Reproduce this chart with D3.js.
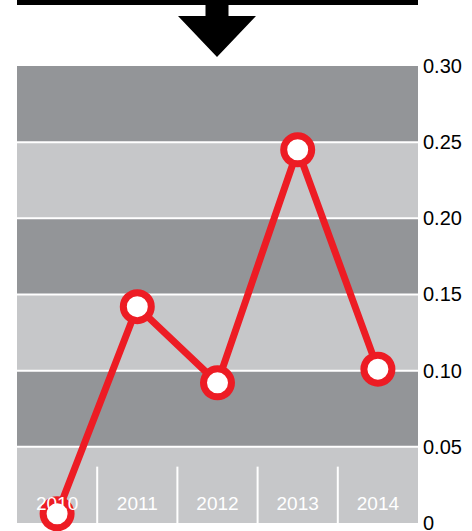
<!DOCTYPE html>
<html>
<head>
<meta charset="utf-8">
<script src="https://cdn.jsdelivr.net/npm/d3@7"></script>
<style>
  html, body { margin: 0; padding: 0; background: #ffffff; }
  svg { display: block; font-family: "Liberation Sans", Arial, Helvetica, sans-serif; }
</style>
</head>
<body>
<svg id="chart" width="472" height="531"></svg>
<script>
// Yearly values plotted as a red line with ringed markers
const years = ["2010", "2011", "2012", "2013", "2014"];
const values = [0.006, 0.142, 0.092, 0.245, 0.101];

// Right-hand axis ticks and their printed labels
const tickValues = [0, 0.05, 0.10, 0.15, 0.20, 0.25, 0.30];
const tickLabels = ["0", "0.05", "0.10", "0.15", "0.20", "0.25", "0.30"];

const svg = d3.select("#chart");

const plotLeft = 17, plotRight = 418, plotTop = 66, plotBottom = 523;

const x = d3.scaleBand().domain(years).range([plotLeft, plotRight]);
const y = d3.scaleLinear().domain([0, 0.30]).range([plotBottom, plotTop]);

// Alternating horizontal bands, darker on top
const bandStarts = tickValues.slice(0, -1);
svg.append("g").selectAll("rect")
  .data(bandStarts)
  .join("rect")
  .attr("x", plotLeft)
  .attr("width", plotRight - plotLeft)
  .attr("y", d => y(d + 0.05))
  .attr("height", d => y(d) - y(d + 0.05))
  .attr("fill", (d, i) => i % 2 === 0 ? "#c6c7c9" : "#939598");

// White dividers between bands
svg.append("g").selectAll("line")
  .data(tickValues.slice(1, -1))
  .join("line")
  .attr("x1", plotLeft).attr("x2", plotRight)
  .attr("y1", d => y(d)).attr("y2", d => y(d))
  .attr("stroke", "#ffffff")
  .attr("stroke-width", 2);

// Short white separators between year columns in the bottom band
svg.append("g").selectAll("line")
  .data(years.slice(1))
  .join("line")
  .attr("x1", d => x(d)).attr("x2", d => x(d))
  .attr("y1", y(0.037)).attr("y2", plotBottom)
  .attr("stroke", "#ffffff")
  .attr("stroke-width", 2);

// Black header bar and downward arrow
const cx = 217;
svg.append("rect")
  .attr("x", plotLeft).attr("y", 0)
  .attr("width", plotRight - plotLeft).attr("height", 5)
  .attr("fill", "#000000");
svg.append("path")
  .attr("d", `M${cx - 11.5},4 L${cx + 11.5},4 L${cx + 11.5},16 L${cx + 39},16 L${cx},57 L${cx - 39},16 L${cx - 11.5},16 Z`)
  .attr("fill", "#000000");

// Data line
const line = d3.line()
  .x((d, i) => x(years[i]) + x.bandwidth() / 2)
  .y(d => y(d));

svg.append("path")
  .datum(values)
  .attr("d", line)
  .attr("fill", "none")
  .attr("stroke", "#ed1c24")
  .attr("stroke-width", 7)
  .attr("stroke-linejoin", "round");

svg.append("g").selectAll("circle")
  .data(values)
  .join("circle")
  .attr("cx", (d, i) => x(years[i]) + x.bandwidth() / 2)
  .attr("cy", d => y(d))
  .attr("r", 14)
  .attr("fill", "#ffffff")
  .attr("stroke", "#ed1c24")
  .attr("stroke-width", 7);

// Year labels inside the bottom band
svg.append("g").selectAll("text")
  .data(years)
  .join("text")
  .attr("x", d => x(d) + x.bandwidth() / 2)
  .attr("y", 510)
  .attr("text-anchor", "middle")
  .attr("font-size", 19)
  .attr("fill", "#ffffff")
  .text(d => d);

// Right value axis
const axis = d3.axisRight(y)
  .tickValues(tickValues)
  .tickSize(0)
  .tickPadding(6)
  .tickFormat((d, i) => tickLabels[i]);

const axisG = svg.append("g")
  .attr("transform", `translate(${plotRight - 1},0)`)
  .call(axis);
axisG.select(".domain").remove();
axisG.selectAll("text")
  .attr("font-size", 20)
  .attr("font-family", "\"Liberation Sans\", Arial, sans-serif")
  .attr("fill", "#000000");
</script>
</body>
</html>
